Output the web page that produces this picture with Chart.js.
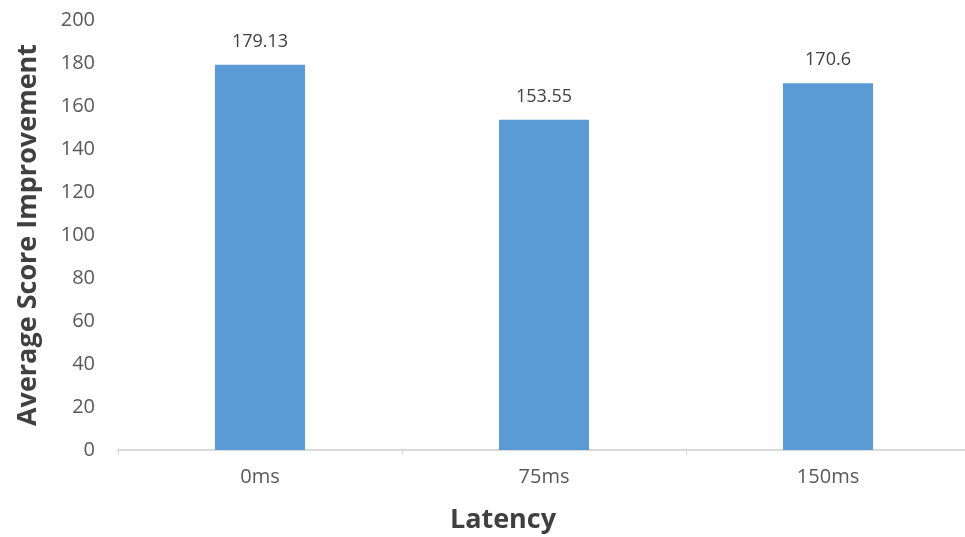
<!DOCTYPE html>
<html>
<head>
<meta charset="utf-8">
<script src="https://cdn.jsdelivr.net/npm/chart.js@4"></script>
<style>
  html, body { margin: 0; padding: 0; background: #fff; overflow: hidden; }
  .wrap { position: relative; width: 980px; height: 537px; }
</style>
</head>
<body>
<div class="wrap"><canvas id="chart"></canvas></div>
<script>
// data
const latencies = ['0ms', '75ms', '150ms'];
const scoreImprovement = [179.13, 153.55, 170.6];
const yTicks = [0, 20, 40, 60, 80, 100, 120, 140, 160, 180, 200];

const fontFamily = '"Open Sans", "DejaVu Sans", sans-serif';
const textGray = '#595959';
const titleGray = '#404040';

// values above the bars, and the x title (it sits left of the axis middle in the original)
const barValues = {
    id: 'barValues',
    afterDatasetsDraw(chart) {
        const ctx = chart.ctx;
        const meta = chart.getDatasetMeta(0);
        ctx.save();
        ctx.font = '18px ' + fontFamily;
        ctx.fillStyle = titleGray;
        ctx.textAlign = 'center';
        ctx.textBaseline = 'middle';
        meta.data.forEach((bar, i) => {
            ctx.fillText(String(scoreImprovement[i]), bar.x, bar.y - 23);
        });

        ctx.font = 'bold 27px ' + fontFamily;
        ctx.fillText('Latency', chart.chartArea.left + 385, chart.height - 17);
        ctx.restore();
    }
};

new Chart(document.getElementById('chart').getContext('2d'), {
    type: 'bar',
    data: {
        labels: latencies,
        datasets: [{
            data: scoreImprovement,
            backgroundColor: '#5B9BD5',
            borderWidth: 0,
            categoryPercentage: 1,
            barPercentage: 0.317
        }]
    },
    plugins: [barValues],
    options: {
        responsive: true,
        maintainAspectRatio: false,
        animation: false,
        layout: { padding: { top: 20, right: 10, left: 0, bottom: 0 } },
        plugins: {
            legend: { display: false },
            tooltip: { enabled: false }
        },
        scales: {
            x: {
                offset: true,
                grid: {
                    offset: true,
                    drawOnChartArea: false,
                    drawTicks: true,
                    tickLength: 5,
                    color: '#d9d9d9'
                },
                border: { color: '#d9d9d9', width: 2 },
                ticks: {
                    padding: 10,
                    color: textGray,
                    font: { family: fontFamily, size: 20 }
                },
                afterFit(scale) { scale.height = 87; }
            },
            y: {
                min: 0,
                max: 200,
                afterBuildTicks(scale) { scale.ticks = yTicks.map(v => ({ value: v })); },
                grid: { display: false, drawTicks: false },
                border: { display: false },
                ticks: {
                    padding: 23,
                    color: textGray,
                    font: { family: fontFamily, size: 20 }
                },
                title: {
                    display: true,
                    text: 'Average Score Improvement',
                    color: titleGray,
                    font: { family: fontFamily, size: 27, weight: 'bold' },
                    padding: { top: 12, bottom: 0 }
                },
                afterFit(scale) {
                    scale.width = 118;
                    scale.paddingTop = 0;
                    scale.paddingBottom = 0;
                }
            }
        }
    }
});
</script>
</body>
</html>
